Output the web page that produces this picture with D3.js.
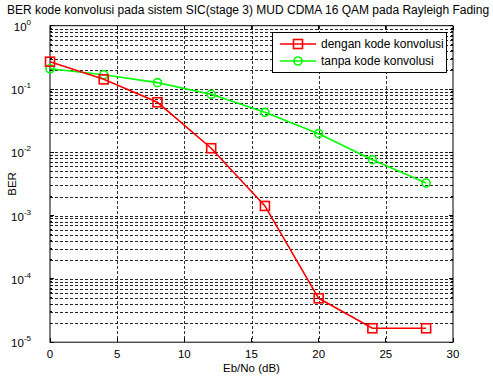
<!DOCTYPE html>
<html>
<head>
<meta charset="utf-8">
<script src="https://cdn.jsdelivr.net/npm/d3@7"></script>
<style>
  body { margin: 0; background: #fff; }
  text { font-family: "Liberation Sans", Arial, sans-serif; }
</style>
</head>
<body>
<script>
const width = 493;
const height = 377;

const ebno = [0, 4, 8, 12, 16, 20, 24, 28];
const berCoded = [0.27, 0.142, 0.0617, 0.0116, 0.00142, 0.0000494, 0.0000166, 0.0000166];
const berUncoded = [0.209, 0.168, 0.126, 0.0824, 0.0428, 0.0197, 0.00764, 0.00327];
const xTicks = [0, 5, 10, 15, 20, 25, 30];
const yExponents = [0, -1, -2, -3, -4, -5];
const seriesNames = ["dengan kode konvolusi", "tanpa kode konvolusi"];

const margin = { top: 25.7, right: 40, bottom: 35, left: 50 };
const plotW = 453 - margin.left;
const plotH = 342.2 - margin.top;

const svg = d3.select("body")
    .append("svg")
    .attr("width", width)
    .attr("height", height);

const x = d3.scaleLinear().domain([0, 30]).range([margin.left, margin.left + plotW]);
const y = d3.scaleLog().domain([1e-5, 1]).range([margin.top + plotH, margin.top]);

// grid
const grid = svg.append("g").attr("shape-rendering", "crispEdges");
const minorVals = [];
for (let e = -5; e < 0; e++) {
  for (let m = 1; m <= 9; m++) {
    minorVals.push(m * Math.pow(10, e));
  }
}
minorVals.push(1);

grid.selectAll(".hgrid")
    .data(minorVals.filter((v) => v > 1e-5 && v < 1))
    .enter()
    .append("line")
    .attr("x1", x(0))
    .attr("x2", x(30))
    .attr("y1", (d) => Math.round(y(d)) + 0.5)
    .attr("y2", (d) => Math.round(y(d)) + 0.5)
    .attr("stroke", "#000")
    .attr("stroke-width", 1)
    .attr("stroke-dasharray", "3,2")
    .attr("opacity", 0.85);

grid.selectAll(".vgrid")
    .data(xTicks.filter((v) => v > 0 && v < 30))
    .enter()
    .append("line")
    .attr("x1", (d) => Math.round(x(d)) + 0.5)
    .attr("x2", (d) => Math.round(x(d)) + 0.5)
    .attr("y1", y(1))
    .attr("y2", y(1e-5))
    .attr("stroke", "#000")
    .attr("stroke-width", 1)
    .attr("stroke-dasharray", "3,2")
    .attr("opacity", 0.8);

// axes box
svg.append("rect")
    .attr("x", x(0))
    .attr("y", y(1))
    .attr("width", x(30) - x(0))
    .attr("height", y(1e-5) - y(1))
    .attr("fill", "none")
    .attr("stroke", "#000")
    .attr("stroke-width", 1);

// ticks
const tickG = svg.append("g").attr("stroke", "#000").attr("shape-rendering", "crispEdges");
xTicks.forEach((t) => {
  tickG.append("line").attr("x1", x(t)).attr("x2", x(t)).attr("y1", y(1e-5)).attr("y2", y(1e-5) - 4);
  tickG.append("line").attr("x1", x(t)).attr("x2", x(t)).attr("y1", y(1)).attr("y2", y(1) + 4);
});
minorVals.forEach((v) => {
  const major = yExponents.some((e) => Math.abs(Math.log10(v) - e) < 1e-9);
  const len = major ? 4 : 2;
  tickG.append("line").attr("x1", x(0)).attr("x2", x(0) + len).attr("y1", y(v)).attr("y2", y(v));
  tickG.append("line").attr("x1", x(30)).attr("x2", x(30) - len).attr("y1", y(v)).attr("y2", y(v));
});

// tick labels
svg.append("g")
    .selectAll("text")
    .data(xTicks)
    .enter()
    .append("text")
    .attr("x", (d) => x(d))
    .attr("y", y(1e-5) + 16)
    .attr("text-anchor", "middle")
    .attr("font-size", 11.5)
    .text((d) => d);

const yl = svg.append("g")
    .selectAll("text")
    .data(yExponents)
    .enter()
    .append("text")
    .attr("x", x(0) - 19)
    .attr("y", (d) => y(Math.pow(10, d)) + 5)
    .attr("text-anchor", "end")
    .attr("font-size", 11.5)
    .text("10");
yl.append("tspan")
    .attr("dy", -6)
    .attr("font-size", 8)
    .text((d) => d);

// labels
svg.append("text")
    .attr("x", 248)
    .attr("y", 14)
    .attr("text-anchor", "middle")
    .attr("font-size", 12)
    .text("BER kode konvolusi pada sistem SIC(stage 3) MUD CDMA 16 QAM pada Rayleigh Fading");

svg.append("text")
    .attr("x", (x(0) + x(30)) / 2)
    .attr("y", 372)
    .attr("text-anchor", "middle")
    .attr("font-size", 11.5)
    .text("Eb/No (dB)");

svg.append("text")
    .attr("transform", `translate(16, ${(y(1) + y(1e-5)) / 2}) rotate(-90)`)
    .attr("text-anchor", "middle")
    .attr("font-size", 11.5)
    .text("BER");

// series
const line = d3.line().x((d) => x(d[0])).y((d) => y(d[1]));
const coded = ebno.map((e, i) => [e, berCoded[i]]);
const uncoded = ebno.map((e, i) => [e, berUncoded[i]]);

svg.append("path")
    .attr("d", line(uncoded))
    .attr("fill", "none")
    .attr("stroke", "#00ff00")
    .attr("stroke-width", 1.6);
svg.selectAll(".circ")
    .data(uncoded)
    .enter()
    .append("circle")
    .attr("cx", (d) => x(d[0]))
    .attr("cy", (d) => y(d[1]))
    .attr("r", 4)
    .attr("fill", "none")
    .attr("stroke", "#00ff00")
    .attr("stroke-width", 1.6);

svg.append("path")
    .attr("d", line(coded))
    .attr("fill", "none")
    .attr("stroke", "#ff0000")
    .attr("stroke-width", 1.6);
svg.selectAll(".sq")
    .data(coded)
    .enter()
    .append("rect")
    .attr("x", (d) => x(d[0]) - 4.5)
    .attr("y", (d) => y(d[1]) - 4.5)
    .attr("width", 9)
    .attr("height", 9)
    .attr("fill", "none")
    .attr("stroke", "#ff0000")
    .attr("stroke-width", 1.6);

// legend
const lg = svg.append("g");
lg.append("rect")
    .attr("x", 272.5)
    .attr("y", 32.5)
    .attr("width", 174)
    .attr("height", 40)
    .attr("fill", "#fff")
    .attr("stroke", "#000")
    .attr("stroke-width", 1);

const legendRows = [
  { name: seriesNames[0], color: "#ff0000", shape: "square", yy: 44 },
  { name: seriesNames[1], color: "#00ff00", shape: "circle", yy: 61 },
];
legendRows.forEach((r) => {
  lg.append("line")
      .attr("x1", 280).attr("x2", 316)
      .attr("y1", r.yy).attr("y2", r.yy)
      .attr("stroke", r.color).attr("stroke-width", 1.6);
  if (r.shape === "square") {
    lg.append("rect")
        .attr("x", 298 - 4.5).attr("y", r.yy - 4.5)
        .attr("width", 9).attr("height", 9)
        .attr("fill", "none").attr("stroke", r.color).attr("stroke-width", 1.6);
  } else {
    lg.append("circle")
        .attr("cx", 298).attr("cy", r.yy).attr("r", 4)
        .attr("fill", "none").attr("stroke", r.color).attr("stroke-width", 1.6);
  }
  lg.append("text")
      .attr("x", 321)
      .attr("y", r.yy + 4)
      .attr("font-size", 12)
      .text(r.name);
});
</script>
</body>
</html>
